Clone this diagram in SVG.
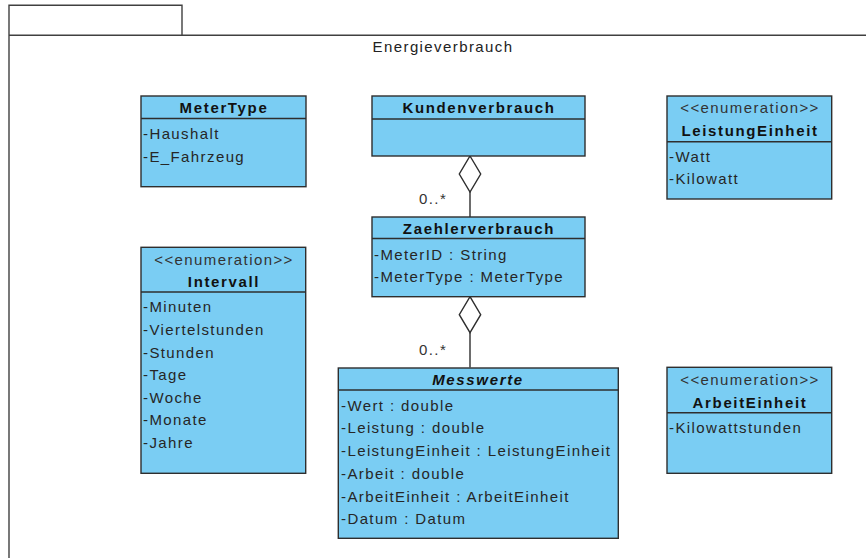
<svg xmlns="http://www.w3.org/2000/svg" width="866" height="558" viewBox="0 0 866 558">
  <style>
    .frame { fill: none; stroke: #404040; stroke-width: 1.4; }
    .box { fill: #7ACDF3; stroke: #2e2e2e; stroke-width: 1.4; }
    .sep { stroke: #2e2e2e; stroke-width: 1.4; }
    text { font-family: "Liberation Sans", Arial, sans-serif; font-size: 15px; letter-spacing: 1.4px; fill: #262626; }
    .title { font-weight: bold; letter-spacing: 1.65px; fill: #111; text-anchor: middle; }
    .italic { font-style: italic; }
    .stereo { text-anchor: middle; fill: #333; }
    .pkg { text-anchor: middle; fill: #222; }
    .mult { fill: #333; }
    .link { stroke: #2e2e2e; stroke-width: 1.4; fill: none; marker-start: url(#aggregation); }
  </style>
  <defs>
    <!-- hollow diamond at the whole end of an aggregation -->
    <marker id="aggregation" markerUnits="userSpaceOnUse" viewBox="-1 -12 38 24" markerWidth="38" markerHeight="24" refX="0" refY="0" orient="auto">
      <path d="M0,0 L18,-10.7 L36,0 L18,10.7 Z" fill="#fff" stroke="#2e2e2e" stroke-width="1.4"/>
    </marker>
  </defs>

  <rect width="866" height="558" fill="#fff"/>

  <!-- package frame -->
  <g id="package-energieverbrauch">
    <path class="frame" d="M9,558 V5.3 H182 V35.3"/>
    <path class="frame" d="M9,35.3 H866"/>
    <text class="pkg" x="443" y="52">Energieverbrauch</text>
  </g>

  <!-- aggregations -->
  <g id="connectors">
    <line class="link" x1="470" y1="156" x2="470" y2="217"/>
    <text class="mult" x="419" y="204">0..*</text>
    <line class="link" x1="470" y1="296.7" x2="470" y2="367.5"/>
    <text class="mult" x="419" y="354.5">0..*</text>
  </g>

  <g id="MeterType">
    <rect class="box" x="141" y="96" width="165" height="90.7"/>
    <line class="sep" x1="141" y1="118.5" x2="306" y2="118.5"/>
    <text class="title" x="224" y="113.3">MeterType</text>
    <text x="143" y="139">-Haushalt</text>
    <text x="143" y="161.5">-E_Fahrzeug</text>
  </g>

  <g id="Kundenverbrauch">
    <rect class="box" x="372" y="96" width="213" height="60"/>
    <line class="sep" x1="372" y1="119" x2="585" y2="119"/>
    <text class="title" x="479" y="113.3">Kundenverbrauch</text>
  </g>

  <g id="LeistungEinheit">
    <rect class="box" x="667" y="96" width="164.7" height="103"/>
    <line class="sep" x1="667" y1="141.7" x2="831.7" y2="141.7"/>
    <text class="stereo" x="750" y="112.7">&lt;&lt;enumeration&gt;&gt;</text>
    <text class="title" x="750" y="136">LeistungEinheit</text>
    <text x="669" y="161.7">-Watt</text>
    <text x="669" y="184.3">-Kilowatt</text>
  </g>

  <g id="Intervall">
    <rect class="box" x="141" y="247.3" width="164.7" height="226"/>
    <line class="sep" x1="141" y1="292" x2="305.7" y2="292"/>
    <text class="stereo" x="224" y="264.5">&lt;&lt;enumeration&gt;&gt;</text>
    <text class="title" x="224" y="287.3">Intervall</text>
    <text x="143" y="312.3">-Minuten</text>
    <text x="143" y="334.9">-Viertelstunden</text>
    <text x="143" y="357.5">-Stunden</text>
    <text x="143" y="380.1">-Tage</text>
    <text x="143" y="402.7">-Woche</text>
    <text x="143" y="425.3">-Monate</text>
    <text x="143" y="447.9">-Jahre</text>
  </g>

  <g id="Zaehlerverbrauch">
    <rect class="box" x="372" y="217" width="213" height="79.7"/>
    <line class="sep" x1="372" y1="238.5" x2="585" y2="238.5"/>
    <text class="title" x="479" y="234">Zaehlerverbrauch</text>
    <text x="374" y="260">-MeterID : String</text>
    <text x="374" y="281.7">-MeterType : MeterType</text>
  </g>

  <g id="Messwerte">
    <rect class="box" x="338.3" y="368" width="280" height="170.3"/>
    <line class="sep" x1="338.3" y1="390" x2="618.3" y2="390"/>
    <text class="title italic" x="478" y="385.3">Messwerte</text>
    <text x="341" y="410.7">-Wert : double</text>
    <text x="341" y="433.3">-Leistung : double</text>
    <text x="341" y="456">-LeistungEinheit : LeistungEinheit</text>
    <text x="341" y="478.7">-Arbeit : double</text>
    <text x="341" y="501.5">-ArbeitEinheit : ArbeitEinheit</text>
    <text x="341" y="524.2">-Datum : Datum</text>
  </g>

  <g id="ArbeitEinheit">
    <rect class="box" x="667" y="367.3" width="164.7" height="106"/>
    <line class="sep" x1="667" y1="412.7" x2="831.7" y2="412.7"/>
    <text class="stereo" x="750" y="384.5">&lt;&lt;enumeration&gt;&gt;</text>
    <text class="title" x="750" y="407.7">ArbeitEinheit</text>
    <text x="669" y="433.3">-Kilowattstunden</text>
  </g>
</svg>
